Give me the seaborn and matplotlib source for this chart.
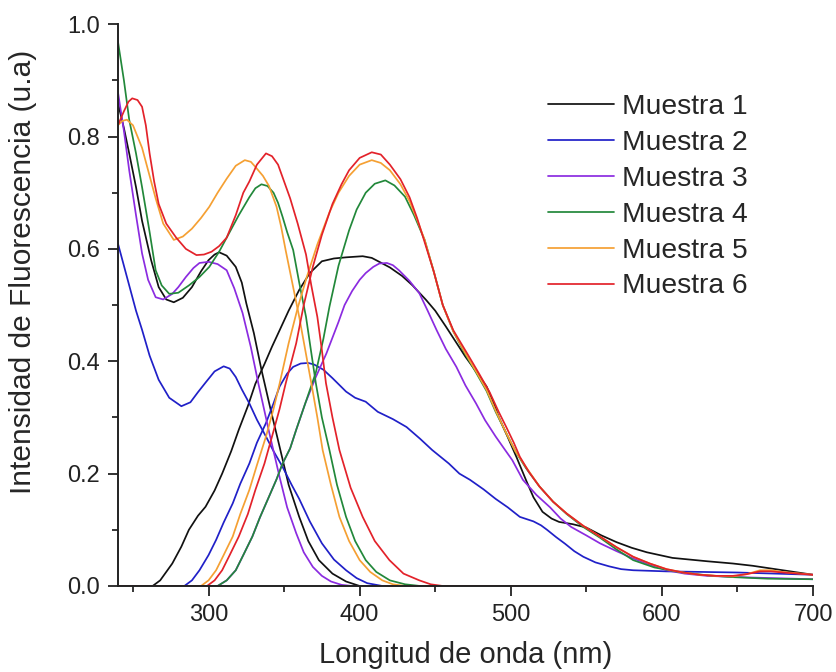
import matplotlib
matplotlib.use('Agg')
import matplotlib.pyplot as plt
import seaborn as sns
import pandas as pd
from matplotlib.ticker import MultipleLocator, FormatStrFormatter

# Excitation (left) and emission (right) spectra
m1_exc_x = [240, 244, 247.5, 252, 256, 262, 267, 272, 277, 283, 289, 295, 300, 304, 307, 312, 318, 322, 325, 330, 335,
            341, 347, 353, 360, 366, 373, 382, 391, 400, 700]
m1_exc_y = [0.86, 0.815, 0.77, 0.71, 0.65, 0.58, 0.532, 0.51, 0.505, 0.513, 0.532, 0.56, 0.58, 0.59, 0.594, 0.588,
            0.568, 0.54, 0.503, 0.45, 0.385, 0.315, 0.248, 0.18, 0.123, 0.08, 0.046, 0.022, 0.008, 0.0, 0.0]
m1_em_x = [240, 263, 268, 276, 282, 287, 293, 298, 304, 309, 315, 320, 326, 331, 337, 342, 347, 353, 360, 367, 375,
           383, 391, 402, 408, 413, 420, 428, 435, 444, 450, 457, 464, 470, 477, 484, 488, 492, 498, 504, 510, 515,
           521, 527, 532, 541, 550, 560, 570, 580, 590, 607, 630, 647, 660, 680, 700]
m1_em_y = [0, 0, 0.01, 0.04, 0.07, 0.1, 0.125, 0.141, 0.17, 0.2, 0.24, 0.278, 0.32, 0.36, 0.395, 0.426, 0.455, 0.49,
           0.527, 0.557, 0.578, 0.583, 0.585, 0.587, 0.584, 0.577, 0.567, 0.552, 0.535, 0.509, 0.49, 0.462, 0.433,
           0.408, 0.382, 0.355, 0.33, 0.301, 0.265, 0.228, 0.189, 0.158, 0.132, 0.12, 0.114, 0.11, 0.104, 0.09,
           0.078, 0.068, 0.06, 0.05, 0.044, 0.04, 0.036, 0.028, 0.02]

m2_exc_x = [240, 244, 248, 252, 256, 261, 267, 274, 282, 288, 293, 298, 304, 310, 314, 318, 322, 327, 332, 338, 343,
            349, 355, 360, 367, 375, 383, 391, 398, 405, 415, 700]
m2_exc_y = [0.61, 0.57, 0.53, 0.49, 0.456, 0.41, 0.367, 0.335, 0.32, 0.327, 0.345, 0.362, 0.382, 0.391, 0.387, 0.372,
            0.35, 0.325, 0.296, 0.266, 0.24, 0.212, 0.18, 0.155, 0.115, 0.076, 0.047, 0.028, 0.014, 0.005, 0.0, 0.0]
m2_em_x = [240, 284, 289, 294, 300, 305, 310, 316, 321, 327, 332, 338, 343, 347, 352, 356, 361, 366, 370, 376, 382,
           391, 397, 404, 412, 422, 431, 440, 448, 459, 466, 473, 482, 490, 498, 506, 515, 520, 524, 530, 536, 542,
           548, 556, 565, 573, 581, 603, 650, 700]
m2_em_y = [0, 0, 0.01, 0.028, 0.055, 0.082, 0.113, 0.147, 0.182, 0.218, 0.255, 0.29, 0.325, 0.355, 0.378, 0.39, 0.396,
           0.397, 0.394, 0.385, 0.37, 0.346, 0.335, 0.328, 0.31, 0.297, 0.283, 0.262, 0.242, 0.218, 0.2, 0.189, 0.172,
           0.155, 0.14, 0.123, 0.115, 0.108, 0.1, 0.087, 0.075, 0.062, 0.052, 0.042, 0.035, 0.03, 0.028, 0.026,
           0.024, 0.02]

m3_exc_x = [240, 244, 247.5, 252, 256, 260, 265, 270, 276, 280, 285, 290, 294, 300, 306, 312, 317, 322.5, 328, 333,
            340, 347, 352, 358, 363, 369, 375, 381, 388, 395, 700]
m3_exc_y = [0.88, 0.81, 0.74, 0.66, 0.592, 0.545, 0.514, 0.51, 0.52, 0.532, 0.55, 0.566, 0.575, 0.577, 0.573, 0.562,
            0.53, 0.486, 0.425, 0.36, 0.275, 0.194, 0.14, 0.094, 0.06, 0.034, 0.018, 0.008, 0.002, 0.0, 0.0]
m3_em_x = [240, 306, 312, 318, 323, 329, 334, 340, 345, 349, 354, 358, 364, 371, 378, 386, 390, 395, 400, 404, 409,
           413, 418, 422, 426, 433, 439.5, 445, 451, 457, 464, 470, 477, 483, 490, 496, 501, 508, 517, 526, 533, 540,
           550, 559, 570, 580, 592, 603, 615, 630, 660, 700]
m3_em_y = [0, 0, 0.01, 0.028, 0.055, 0.088, 0.122, 0.159, 0.19, 0.218, 0.245, 0.278, 0.325, 0.372, 0.414, 0.47, 0.5,
           0.525, 0.545, 0.557, 0.568, 0.574, 0.575, 0.571, 0.562, 0.543, 0.521, 0.49, 0.455, 0.422, 0.39, 0.357,
           0.325, 0.295, 0.266, 0.243, 0.224, 0.189, 0.162, 0.14, 0.12, 0.105, 0.09, 0.076, 0.062, 0.05, 0.038, 0.028,
           0.022, 0.018, 0.015, 0.012]

m4_exc_x = [240, 244, 247.5, 252, 256, 261, 265, 269, 274, 280, 287, 294, 300.5, 307, 314, 320, 327, 331, 335, 339,
            343, 346, 349, 352, 356, 360, 364.5, 368, 371, 375, 380, 385, 391, 397, 404, 411, 420, 430, 440, 700]
m4_exc_y = [0.97, 0.9, 0.83, 0.77, 0.71, 0.63, 0.562, 0.535, 0.52, 0.522, 0.535, 0.55, 0.568, 0.595, 0.63, 0.66, 0.692,
            0.708, 0.715, 0.712, 0.7, 0.682, 0.657, 0.63, 0.598, 0.54, 0.479, 0.415, 0.361, 0.3, 0.242, 0.18, 0.123,
            0.08, 0.046, 0.025, 0.01, 0.003, 0.0, 0.0]
m4_em_x = [240, 306, 312, 318, 323, 329, 334, 340, 345, 349, 354, 358, 364, 371, 376, 380, 386, 393, 398, 404, 410,
           417, 423, 430, 436, 443, 449, 455, 462, 470, 477, 484, 490, 497, 503, 510, 519, 528, 537, 548, 559, 570,
           581, 595, 611, 630, 645, 670, 700]
m4_em_y = [0, 0, 0.01, 0.028, 0.055, 0.088, 0.122, 0.159, 0.19, 0.218, 0.245, 0.278, 0.325, 0.38, 0.44, 0.497, 0.57,
           0.633, 0.67, 0.7, 0.716, 0.722, 0.713, 0.693, 0.66, 0.616, 0.56, 0.5, 0.453, 0.412, 0.38, 0.347, 0.31,
           0.272, 0.24, 0.21, 0.177, 0.15, 0.128, 0.105, 0.086, 0.065, 0.046, 0.033, 0.025, 0.019, 0.016, 0.013, 0.012]

m5_exc_x = [240, 243, 246, 250, 253, 256, 260, 265, 270, 277, 283, 289, 295, 300.5, 306, 312, 318, 324, 328, 331, 336,
            340, 345, 348, 351, 355, 360, 364, 368, 372, 375.5, 381, 386.6, 393, 400, 407, 415, 422, 430, 700]
m5_exc_y = [0.82, 0.828, 0.83, 0.82, 0.8, 0.78, 0.74, 0.69, 0.645, 0.616, 0.622, 0.636, 0.655, 0.675, 0.7, 0.725,
            0.748, 0.758, 0.755, 0.746, 0.73, 0.712, 0.675, 0.64, 0.598, 0.545, 0.479, 0.42, 0.361, 0.3, 0.242, 0.18,
            0.123, 0.08, 0.046, 0.025, 0.01, 0.003, 0.0, 0.0]
m5_em_x = [240, 295, 300, 305, 310, 316, 321, 327, 332, 338, 343, 347, 353, 359, 365, 372, 380, 386, 393, 400, 408,
           414, 420, 427, 433, 438, 443, 449, 455, 462, 470, 477, 484, 490, 497, 503, 510, 519, 528, 537, 548, 559,
           570, 581, 592, 603, 614, 625, 636, 647, 656, 665, 672, 680, 700]
m5_em_y = [0, 0, 0.01, 0.028, 0.055, 0.088, 0.128, 0.171, 0.215, 0.266, 0.315, 0.36, 0.432, 0.495, 0.55, 0.608, 0.665,
           0.7, 0.73, 0.75, 0.758, 0.753, 0.74, 0.715, 0.685, 0.652, 0.616, 0.56, 0.5, 0.453, 0.414, 0.382, 0.349,
           0.312, 0.272, 0.24, 0.212, 0.177, 0.15, 0.129, 0.107, 0.088, 0.069, 0.052, 0.04, 0.03, 0.024, 0.02, 0.018,
           0.017, 0.021, 0.028, 0.028, 0.025, 0.02]

m6_exc_x = [240, 244, 247, 249.5, 253, 256, 258.5, 261, 264, 267, 272, 278.6, 285, 292, 297, 302, 307, 312, 318, 323,
            327, 332, 338, 342, 346, 350, 354, 359, 364.5, 368, 372, 375, 377.7, 382, 386.6, 394, 402, 410, 419.7, 429,
            439.5, 447, 455, 700]
m6_exc_y = [0.82, 0.845, 0.862, 0.868, 0.865, 0.853, 0.82, 0.77, 0.72, 0.68, 0.645, 0.62, 0.6, 0.589, 0.59, 0.595,
            0.605, 0.62, 0.66, 0.7, 0.72, 0.75, 0.77, 0.765, 0.75, 0.72, 0.69, 0.645, 0.59, 0.535, 0.479, 0.42, 0.361,
            0.3, 0.242, 0.175, 0.123, 0.08, 0.046, 0.022, 0.01, 0.003, 0.0, 0.0]
m6_em_x = [240, 299, 304, 309, 314, 320, 326, 331, 337, 342, 347, 351, 358, 363, 369, 375, 382, 388, 393, 400, 408,
           414, 420, 427, 433, 438, 443, 449, 455, 462, 472, 479, 486, 492, 497, 502, 506, 512, 519, 528, 537, 548,
           559, 570, 581, 592, 603, 614, 625, 636, 647, 656, 665, 672, 680, 700]
m6_em_y = [0, 0, 0.01, 0.028, 0.055, 0.088, 0.128, 0.171, 0.218, 0.266, 0.315, 0.36, 0.432, 0.5, 0.568, 0.625, 0.68,
           0.715, 0.74, 0.762, 0.772, 0.768, 0.75, 0.724, 0.692, 0.655, 0.612, 0.56, 0.5, 0.455, 0.41, 0.378, 0.345,
           0.31, 0.283, 0.255, 0.23, 0.203, 0.177, 0.15, 0.129, 0.107, 0.088, 0.069, 0.052, 0.04, 0.03, 0.024, 0.02,
           0.018, 0.018, 0.021, 0.026, 0.026, 0.024, 0.02]

samples = ['Muestra 1', 'Muestra 2', 'Muestra 3', 'Muestra 4', 'Muestra 5', 'Muestra 6']
colors = ['#111111', '#2020c8', '#8b2be0', '#22883a', '#f5a033', '#e3222a']

curves = [
    (m1_exc_x, m1_exc_y, m1_em_x, m1_em_y),
    (m2_exc_x, m2_exc_y, m2_em_x, m2_em_y),
    (m3_exc_x, m3_exc_y, m3_em_x, m3_em_y),
    (m4_exc_x, m4_exc_y, m4_em_x, m4_em_y),
    (m5_exc_x, m5_exc_y, m5_em_x, m5_em_y),
    (m6_exc_x, m6_exc_y, m6_em_x, m6_em_y),
]

rows = []
for name, (ex, ey, mx, my) in zip(samples, curves):
    for x, y in zip(ex, ey):
        rows.append((name, 'exc', x, y))
    for x, y in zip(mx, my):
        rows.append((name, 'em', x, y))
df = pd.DataFrame(rows, columns=['Muestra', 'curva', 'wl', 'I'])

sns.set_style('ticks')
plt.rcParams['font.family'] = ['Liberation Sans', 'DejaVu Sans']

fig = plt.figure(figsize=(8.36, 6.72), dpi=100)
ax = fig.add_axes([0.141, 0.128, 0.8315, 0.836])

sns.lineplot(data=df, x='wl', y='I', hue='Muestra', units='curva', estimator=None, sort=False,
             palette=colors, linewidth=1.25, ax=ax)

ax.set_xlim(240, 700)
ax.set_ylim(0, 1.0)
ax.xaxis.set_major_locator(MultipleLocator(100))
ax.xaxis.set_minor_locator(MultipleLocator(50))
ax.yaxis.set_major_locator(MultipleLocator(0.2))
ax.yaxis.set_minor_locator(MultipleLocator(0.1))
ax.yaxis.set_major_formatter(FormatStrFormatter('%.1f'))
ax.tick_params(which='major', length=7, width=1.3, pad=6, labelsize=17, colors='#222222')
ax.tick_params(which='minor', length=4, width=1.3)
for s in ['top', 'right']:
    ax.spines[s].set_visible(False)
for s in ['left', 'bottom']:
    ax.spines[s].set_linewidth(1.4)
    ax.spines[s].set_color('#222222')

ax.set_xlabel('Longitud de onda (nm)', fontsize=21, labelpad=11)
ax.set_ylabel('Intensidad de Fluorescencia (u.a)', fontsize=21.5)
ax.yaxis.set_label_coords(-0.117, 0.56)

handles, labels = ax.get_legend_handles_labels()
ax.legend(handles, labels, frameon=False, loc='upper left', bbox_to_anchor=(0.655, 0.86),
          bbox_transform=fig.transFigure, fontsize=20.3, handlelength=2.34, handletextpad=0.3,
          labelspacing=0.35, borderpad=0, borderaxespad=0)

fig.savefig('out.png', dpi=100)
